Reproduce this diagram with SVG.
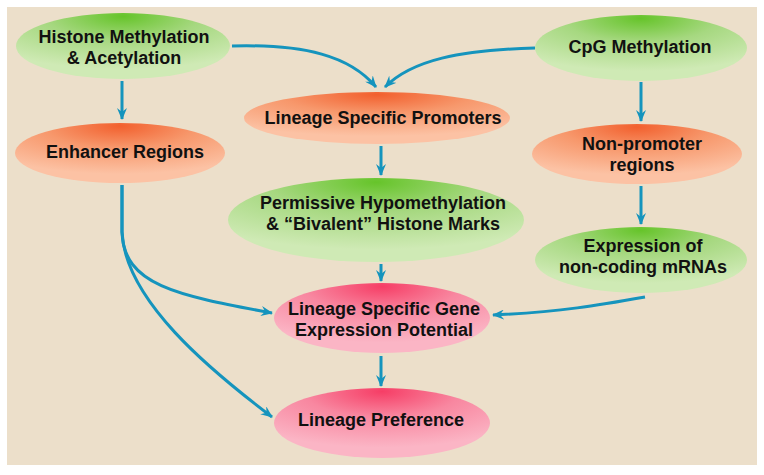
<svg xmlns="http://www.w3.org/2000/svg" width="764" height="475" viewBox="0 0 764 475">
<defs>
<radialGradient id="gGreen" cx="0.5" cy="0.05" r="0.8">
<stop offset="0" stop-color="#66c42a"/>
<stop offset="0.45" stop-color="#a6d880"/>
<stop offset="1" stop-color="#cfeab5"/>
</radialGradient>
<radialGradient id="gOrange" cx="0.5" cy="0.05" r="0.8">
<stop offset="0" stop-color="#f2602e"/>
<stop offset="0.45" stop-color="#f7986c"/>
<stop offset="1" stop-color="#fcc2a4"/>
</radialGradient>
<radialGradient id="gPink" cx="0.5" cy="0.05" r="0.8">
<stop offset="0" stop-color="#f63e66"/>
<stop offset="0.45" stop-color="#f887a0"/>
<stop offset="1" stop-color="#fbb5c5"/>
</radialGradient>
<marker id="arr" viewBox="0 0 12 10" refX="11" refY="5" markerWidth="12" markerHeight="10" markerUnits="userSpaceOnUse" orient="auto">
<path d="M0,0 L12,5 L0,10 L4,5 Z" fill="#1594bd"/>
</marker>
</defs>
<style>
.lbl{font-family:"Liberation Sans",Arial,sans-serif;font-weight:bold;font-size:18px;fill:#111;text-anchor:middle}
.c{fill:none;stroke:#1594bd;stroke-width:3;marker-end:url(#arr)}
</style>
<rect x="0" y="0" width="764" height="475" fill="#ffffff"/>
<rect x="7" y="7" width="750" height="458" fill="#ecdfca"/>

<g id="connectors">
<path class="c" d="M122,81 L122,119"/>
<path class="c" d="M232,46 C305,44 350,56 376,87"/>
<path class="c" d="M535,48 C460,50 412,60 385,87"/>
<path class="c" d="M641,82 L641,121"/>
<path class="c" d="M381,146 L381,175"/>
<path class="c" d="M641,186 L641,224"/>
<path class="c" d="M381,264 L381,281"/>
<path class="c" d="M645,297 C600,305 560,312 493,315"/>
<path class="c" d="M122,185 L122,232 C124,285 175,295 272,313"/>
<path class="c" d="M122,185 L122,232 C125,300 210,370 272,417"/>
<path class="c" d="M381,356 L381,386"/>
</g>

<g id="histone">
<ellipse cx="123" cy="46" rx="107" ry="33" fill="url(#gGreen)"/>
<text class="lbl" x="124" y="43">Histone Methylation</text>
<text class="lbl" x="124" y="64">&amp; Acetylation</text>
</g>
<g id="cpg">
<ellipse cx="641" cy="48" rx="106" ry="33" fill="url(#gGreen)"/>
<text class="lbl" x="640" y="53">CpG Methylation</text>
</g>
<g id="promoters">
<ellipse cx="377" cy="118" rx="133" ry="26" fill="url(#gOrange)"/>
<text class="lbl" x="383" y="124">Lineage Specific Promoters</text>
</g>
<g id="enhancer">
<ellipse cx="120" cy="153" rx="105" ry="30" fill="url(#gOrange)"/>
<text class="lbl" x="125" y="158">Enhancer Regions</text>
</g>
<g id="nonpromoter">
<ellipse cx="637" cy="154" rx="105" ry="30" fill="url(#gOrange)"/>
<text class="lbl" x="642" y="150">Non-promoter</text>
<text class="lbl" x="642" y="171">regions</text>
</g>
<g id="permissive">
<ellipse cx="376" cy="220" rx="148" ry="42" fill="url(#gGreen)"/>
<text class="lbl" x="383" y="209">Permissive Hypomethylation</text>
<text class="lbl" x="383" y="230">&amp; “Bivalent” Histone Marks</text>
</g>
<g id="expression">
<ellipse cx="641" cy="260" rx="106" ry="33" fill="url(#gGreen)"/>
<text class="lbl" x="643" y="252">Expression of</text>
<text class="lbl" x="643" y="273">non-coding mRNAs</text>
</g>
<g id="potential">
<ellipse cx="382" cy="318" rx="108" ry="35" fill="url(#gPink)"/>
<text class="lbl" x="384" y="315">Lineage Specific Gene</text>
<text class="lbl" x="384" y="336">Expression Potential</text>
</g>
<g id="preference">
<ellipse cx="382" cy="423" rx="108" ry="35" fill="url(#gPink)"/>
<text class="lbl" x="381" y="426">Lineage Preference</text>
</g>
</svg>
